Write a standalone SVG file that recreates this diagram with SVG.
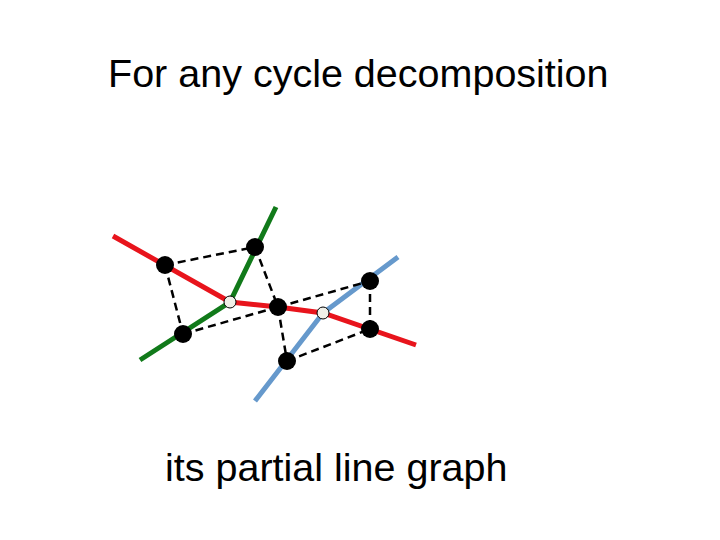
<svg xmlns="http://www.w3.org/2000/svg" width="720" height="540" viewBox="0 0 720 540">
<style>
.t{font-family:"Liberation Sans",Arial,sans-serif;font-size:39.5px;fill:#000}
.e{stroke-width:5;fill:none}
.d{stroke:#000;stroke-width:2.5;stroke-dasharray:8,5;fill:none}
.b{fill:#000}
.w{fill:#f0f0e8;stroke:#000;stroke-width:1}
</style>
<rect width="720" height="540" fill="#fff"/>
<text class="t" x="108" y="87">For any cycle decomposition</text>
<text class="t" x="165" y="481">its partial line graph</text>
<g id="connectors">
<polyline class="e" stroke="#e8141c" points="113,236 230,302 278,307 323,313 416,345"/>
<polyline class="e" stroke="#117a1a" points="276,207 230,302 140,360"/>
<polyline class="e" stroke="#6699cc" points="398,257 323,313 255,401"/>
<line class="d" x1="165" y1="265" x2="255" y2="247"/>
<line class="d" x1="165" y1="265" x2="183" y2="334"/>
<line class="d" x1="183" y1="334" x2="278" y2="307"/>
<line class="d" x1="255" y1="247" x2="278" y2="307"/>
<line class="d" x1="278" y1="307" x2="370" y2="281"/>
<line class="d" x1="278" y1="307" x2="287" y2="361"/>
<line class="d" x1="370" y1="281" x2="370" y2="329"/>
<line class="d" x1="287" y1="361" x2="370" y2="329"/>
</g>
<g id="n1"><circle class="b" cx="165" cy="265" r="9"/></g>
<g id="n2"><circle class="b" cx="255" cy="247" r="9"/></g>
<g id="n3"><circle class="b" cx="183" cy="334" r="9"/></g>
<g id="n4"><circle class="b" cx="278" cy="307" r="9"/></g>
<g id="n5"><circle class="b" cx="370" cy="281" r="9"/></g>
<g id="n6"><circle class="b" cx="370" cy="329" r="9"/></g>
<g id="n7"><circle class="b" cx="287" cy="361" r="9"/></g>
<g id="v1"><circle class="w" cx="230" cy="302" r="6"/></g>
<g id="v2"><circle class="w" cx="323" cy="313" r="6"/></g>
</svg>
